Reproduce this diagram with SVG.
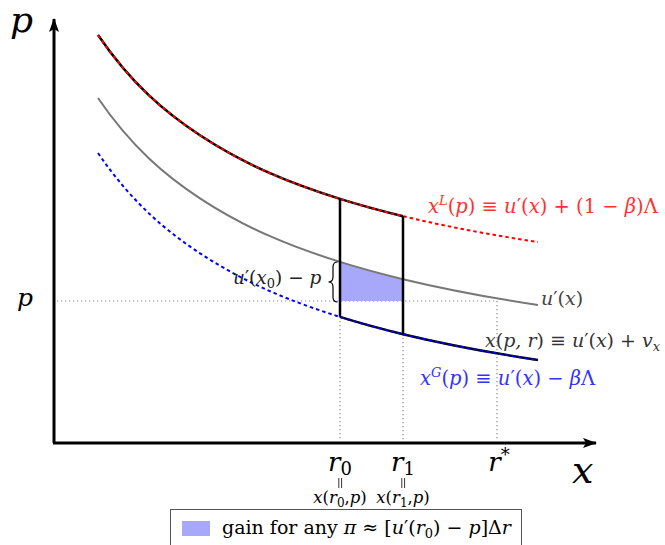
<svg xmlns="http://www.w3.org/2000/svg" xmlns:xlink="http://www.w3.org/1999/xlink" width="665" height="545" viewBox="0 0 665 545">
<style>
.it{font-style:italic;}
.dot{stroke:#888;stroke-width:1.2;stroke-dasharray:1.2 2.8;fill:none;}
.blk{stroke:#000;stroke-width:2.5;fill:none;}
text{font-family:"DejaVu Serif",serif;}
</style>
<defs>
<marker id="ah" viewBox="0 0 14 10" refX="13" refY="5" markerWidth="14" markerHeight="10" markerUnits="userSpaceOnUse" orient="auto">
<path d="M0,0 L14,5 L0,10 L3,5 Z" fill="#000"/>
</marker>
<path id="gFull" d="M98,98 C132,147.8 166,175.9 200,198.3 C246.7,229.1 293.3,247.3 340,261.9 C361,268.5 382,274.1 403,279.2 C448,290 493,298.2 538,305"/>
<path id="gA" d="M98,98 C132,147.8 166,175.9 200,198.3 C246.7,229.1 293.3,247.3 340,261.9 C361,268.5 382,274.1 403,279.2"/>
<path id="gB" d="M340,261.9 C361,268.5 382,274.1 403,279.2 C448,290 493,298.2 538,305"/>
</defs>
<rect width="665" height="545" fill="#fff"/>

<g id="guides">
<line class="dot" x1="57" y1="301" x2="497" y2="301"/>
<line class="dot" x1="340" y1="317" x2="340" y2="441"/>
<line class="dot" x1="403" y1="334" x2="403" y2="441"/>
<line class="dot" x1="497" y1="301" x2="497" y2="441"/>
</g>

<g id="gain-area">
<path d="M340,261.9 C361,268.5 382,274.1 403,279.2 L403,301 L340,301 Z" fill="#a8a8fb"/>
</g>

<g id="curves">
<use xlink:href="#gFull" stroke="#777" stroke-width="2" fill="none"/>
<use xlink:href="#gA" class="blk" transform="translate(0,-63)"/>
<use xlink:href="#gB" class="blk" transform="translate(0,55)"/>
<use xlink:href="#gFull" transform="translate(0,-63)" stroke="#f00" stroke-width="2" stroke-dasharray="3.5 3" fill="none"/>
<use xlink:href="#gFull" transform="translate(0,55)" stroke="#00f" stroke-width="2" stroke-dasharray="3.5 3" fill="none"/>
<line class="blk" x1="340" y1="198.9" x2="340" y2="316.9"/>
<line class="blk" x1="403" y1="216.2" x2="403" y2="334.2"/>
</g>

<g id="axes">
<line x1="54" y1="443" x2="54" y2="19" stroke="#000" stroke-width="3" marker-end="url(#ah)"/>
<line x1="53" y1="443" x2="596" y2="443" stroke="#000" stroke-width="3" marker-end="url(#ah)"/>
</g>

<g id="brace">
<path d="M337.5,262 Q333,262 333,267 L333,277 Q333,282 328.5,282 Q333,282 333,287 L333,297 Q333,302 337.5,302" fill="none" stroke="#000" stroke-width="1.2"/>
</g>

<g id="labels">
<text x="10" y="32" font-size="36" class="it">p</text>
<text x="17" y="306" font-size="25" class="it">p</text>
<text x="572" y="483" font-size="38" class="it">x</text>

<text x="428" y="213" font-size="19.5" fill="#f33"><tspan class="it">x</tspan><tspan class="it" font-size="13" dy="-8">L</tspan><tspan dy="8">(</tspan><tspan class="it">p</tspan>) ≡ <tspan class="it">u</tspan>′(<tspan class="it">x</tspan>) + (1 − <tspan class="it">β</tspan>)Λ</text>

<text x="541" y="305" font-size="19" fill="#444"><tspan class="it">u</tspan>′(<tspan class="it">x</tspan>)</text>

<text x="485" y="347" font-size="19" fill="#333"><tspan class="it">x</tspan>(<tspan class="it">p, r</tspan>) ≡ <tspan class="it">u</tspan>′(<tspan class="it">x</tspan>) + <tspan class="it">v</tspan><tspan class="it" font-size="13" dy="4">x</tspan></text>

<text x="420" y="385" font-size="19.5" fill="#33f"><tspan class="it">x</tspan><tspan class="it" font-size="13" dy="-8">G</tspan><tspan dy="8">(</tspan><tspan class="it">p</tspan>) ≡ <tspan class="it">u</tspan>′(<tspan class="it">x</tspan>) − <tspan class="it">β</tspan>Λ</text>

<text x="233" y="284" font-size="18.5" fill="#222"><tspan class="it">u</tspan>′(<tspan class="it">x</tspan><tspan font-size="13" dy="4">0</tspan><tspan dy="-4">) − </tspan><tspan class="it">p</tspan></text>

<text x="340" y="471" font-size="26" text-anchor="middle"><tspan class="it">r</tspan><tspan font-size="18" dy="4">0</tspan></text>
<text x="403" y="471" font-size="26" text-anchor="middle"><tspan class="it">r</tspan><tspan font-size="18" dy="4">1</tspan></text>
<text x="499" y="471" font-size="26" text-anchor="middle"><tspan class="it">r</tspan><tspan font-size="18" dy="-10">*</tspan></text>

<text x="340" y="503" font-size="16.5" text-anchor="middle"><tspan class="it">x</tspan>(<tspan class="it">r</tspan><tspan font-size="12" dy="4">0</tspan><tspan dy="-4">,</tspan><tspan class="it">p</tspan>)</text>
<text x="403" y="503" font-size="16.5" text-anchor="middle"><tspan class="it">x</tspan>(<tspan class="it">r</tspan><tspan font-size="12" dy="4">1</tspan><tspan dy="-4">,</tspan><tspan class="it">p</tspan>)</text>
</g>
<g id="eq-marks" stroke="#000" stroke-width="0.8">
<line x1="338.8" y1="478" x2="338.8" y2="488"/><line x1="341.6" y1="478" x2="341.6" y2="488"/>
<line x1="401.8" y1="478" x2="401.8" y2="488"/><line x1="404.6" y1="478" x2="404.6" y2="488"/>
</g>

<g id="legend">
<rect x="170.5" y="509.5" width="351" height="40" fill="#fff" stroke="#555" stroke-width="1"/>
<rect x="182" y="521" width="28" height="15" fill="#a8a8fb"/>
<text x="222" y="534" font-size="19">gain for any <tspan class="it">π</tspan> ≈ [<tspan class="it">u</tspan>′(<tspan class="it">r</tspan><tspan font-size="13" dy="4">0</tspan><tspan dy="-4">) − </tspan><tspan class="it">p</tspan>]Δ<tspan class="it">r</tspan></text>
</g>
</svg>
